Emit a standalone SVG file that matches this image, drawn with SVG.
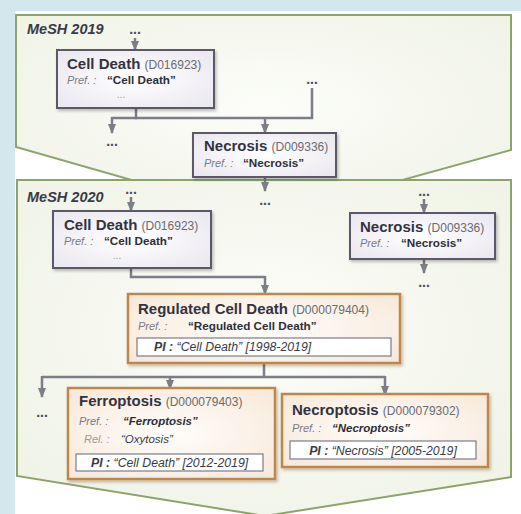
<svg xmlns="http://www.w3.org/2000/svg" width="521" height="514" viewBox="0 0 521 514">
<style>
text{font-family:"Liberation Sans","Noto Sans",sans-serif;}
.lbl{font-size:14.5px;font-weight:bold;font-style:italic;fill:#3a3a48;}
.ttl{font-size:15px;font-weight:bold;fill:#33333f;}
.id{font-size:12px;font-weight:normal;fill:#6a6a70;}
.pf{font-size:11px;font-style:italic;fill:#7a7a86;}
.rl{font-size:11px;font-style:italic;fill:#9a9aa0;}
.q{font-size:11.7px;font-weight:bold;fill:#2e2e38;}
.qi{font-size:11.5px;font-weight:bold;font-style:italic;fill:#2e2e38;}
.qn{font-size:11.5px;font-style:italic;fill:#3a3a44;}
.dots{font-size:14px;font-weight:bold;fill:#4a4a55;text-anchor:middle;}
.sm{font-size:10px;fill:#9a9aa4;text-anchor:middle;}
.pi{font-size:12.3px;font-style:italic;fill:#3a3a44;}
.pib{font-weight:bold;}
.gbox{fill:url(#gg);stroke:#5c5968;stroke-width:2;filter:url(#sh);}
.obox{fill:url(#og);stroke:#c0864a;stroke-width:2.5;filter:url(#sh);}
.ibox{fill:#ffffff;stroke:#7a7c8a;stroke-width:1.2;}
.pent{fill:url(#pg);stroke:#8ca46c;stroke-width:2;}
.con{fill:none;stroke:#7d7d85;stroke-width:2.5;}
.arr{fill:none;stroke:#7d7d85;stroke-width:2.5;marker-end:url(#ah);}
</style>
<defs>
<marker id="ah" viewBox="0 0 10 8" refX="9" refY="4" markerWidth="4.2" markerHeight="3.4" orient="auto">
<path d="M0,0 L10,4 L0,8 z" fill="#7d7d85"/>
</marker>
<radialGradient id="pg" cx="50%" cy="45%" r="65%">
<stop offset="0" stop-color="#fcfdf9"/>
<stop offset="1" stop-color="#f0f3e6"/>
</radialGradient>
<radialGradient id="gg" cx="50%" cy="50%" r="70%">
<stop offset="0" stop-color="#ffffff"/>
<stop offset="1" stop-color="#e9e6ef"/>
</radialGradient>
<radialGradient id="og" cx="50%" cy="50%" r="70%">
<stop offset="0" stop-color="#fffdfb"/>
<stop offset="1" stop-color="#f7e8d8"/>
</radialGradient>
<filter id="sh" x="-10%" y="-10%" width="125%" height="130%">
<feDropShadow dx="1.5" dy="2" stdDeviation="1.5" flood-color="#000" flood-opacity="0.25"/>
</filter>
</defs>

<rect x="0" y="0" width="521" height="514" fill="#d4e7ed"/>
<rect x="15" y="11" width="506" height="503" fill="#ffffff"/>

<g id="mesh2019">
<polygon class="pent" points="16,15 511,15 511,150 265,218 16,147"/>
<text class="lbl" x="27" y="34">MeSH 2019</text>
</g>
<g id="mesh2020">
<polygon class="pent" points="17,180 511,180 511,477 265,516 17,476"/>
<text class="lbl" x="27" y="202">MeSH 2020</text>
</g>

<g id="connectors">
<text class="dots" x="135" y="34">...</text>
<path class="arr" d="M135,38 V50"/>
<path class="con" d="M136,108 V118 H312 V88"/>
<path class="arr" d="M112,117 V133"/>
<path class="con" d="M111,118 H137"/>
<path class="arr" d="M265,118 V133"/>
<text class="dots" x="312" y="84">...</text>
<text class="dots" x="112" y="146">...</text>
<path class="arr" d="M265,177 V191"/>
<text class="dots" x="265" y="205">...</text>

<text class="dots" x="131" y="194">...</text>
<path class="arr" d="M131,197 V211"/>
<path class="con" d="M131,268 V277 H265"/>
<path class="arr" d="M265,276 V294"/>
<text class="dots" x="424" y="196">...</text>
<path class="arr" d="M424,199 V213"/>
<path class="arr" d="M424,259 V273"/>
<text class="dots" x="424" y="287">...</text>

<path class="con" d="M264,363 V377"/>
<path class="con" d="M42,377 H385"/>
<path class="arr" d="M42,376 V397"/>
<path class="arr" d="M170,377 V389"/>
<path class="arr" d="M385,376 V395"/>
<text class="dots" x="42" y="417">...</text>
</g>

<g id="celldeath2019">
<rect class="gbox" x="57" y="50" width="157" height="58"/>
<text class="ttl" x="67" y="69">Cell Death <tspan class="id">(D016923)</tspan></text>
<text class="pf" x="67" y="84">Pref. :</text>
<text class="q" x="107" y="84">“Cell Death”</text>
<text class="sm" x="121" y="98">...</text>
</g>

<g id="necrosis2019">
<rect class="gbox" x="193" y="133" width="143" height="44"/>
<text class="ttl" x="204" y="151">Necrosis <tspan class="id">(D009336)</tspan></text>
<text class="pf" x="204" y="167">Pref. :</text>
<text class="q" x="243" y="167">“Necrosis”</text>
</g>

<g id="celldeath2020">
<rect class="gbox" x="53" y="211" width="158" height="57"/>
<text class="ttl" x="64" y="230">Cell Death <tspan class="id">(D016923)</tspan></text>
<text class="pf" x="64" y="245">Pref. :</text>
<text class="q" x="104" y="245">“Cell Death”</text>
<text class="sm" x="117" y="259">...</text>
</g>

<g id="necrosis2020">
<rect class="gbox" x="350" y="213" width="145" height="46"/>
<text class="ttl" x="360" y="232">Necrosis <tspan class="id">(D009336)</tspan></text>
<text class="pf" x="360" y="247">Pref. :</text>
<text class="q" x="401" y="247">“Necrosis”</text>
</g>

<g id="regulatedcelldeath">
<rect class="obox" x="128" y="294" width="272" height="69"/>
<text class="ttl" x="138" y="314">Regulated Cell Death <tspan class="id">(D000079404)</tspan></text>
<text class="pf" x="138" y="330">Pref. :</text>
<text class="q" x="188" y="330">“Regulated Cell Death”</text>
<rect class="ibox" x="137" y="338" width="254" height="18"/>
<text class="pi" x="154" y="351"><tspan class="pib">PI :</tspan> “Cell Death” [1998-2019]</text>
</g>

<g id="ferroptosis">
<rect class="obox" x="68" y="388" width="207" height="91"/>
<text class="ttl" x="79" y="406">Ferroptosis <tspan class="id">(D000079403)</tspan></text>
<text class="pf" x="79" y="425">Pref. :</text>
<text class="qi" x="123" y="425">“Ferroptosis”</text>
<text class="rl" x="84" y="443">Rel. :</text>
<text class="qn" x="121" y="443">“Oxytosis”</text>
<rect class="ibox" x="76" y="454" width="187" height="17"/>
<text class="pi" x="91" y="467"><tspan class="pib">PI :</tspan> “Cell Death” [2012-2019]</text>
</g>

<g id="necroptosis">
<rect class="obox" x="282" y="394" width="206" height="73"/>
<text class="ttl" x="292" y="415">Necroptosis <tspan class="id">(D000079302)</tspan></text>
<text class="pf" x="292" y="432">Pref. :</text>
<text class="qi" x="332" y="432">“Necroptosis”</text>
<rect class="ibox" x="290" y="441" width="186" height="18"/>
<text class="pi" x="383" y="455" text-anchor="middle"><tspan class="pib">PI :</tspan> “Necrosis” [2005-2019]</text>
</g>
</svg>
